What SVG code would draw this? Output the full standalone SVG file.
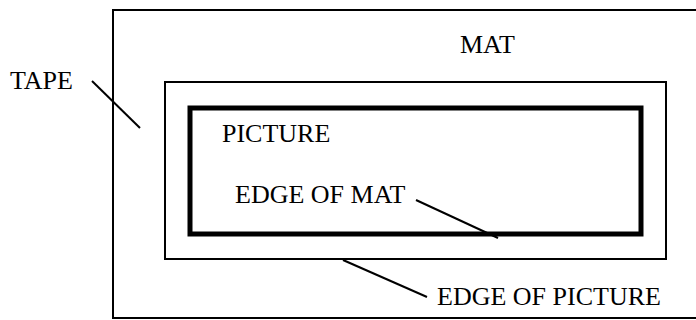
<svg xmlns="http://www.w3.org/2000/svg" width="696" height="320" viewBox="0 0 696 320">
<style>
text{font-family:'Liberation Serif','DejaVu Serif',serif;font-size:26px;fill:#000}
.b{fill:none;stroke:#000}
.c{stroke:#000;stroke-width:2;fill:none}
</style>
<rect width="696" height="320" fill="#fff"/>
<g id="mat"><rect class="b" x="113" y="10" width="600" height="308" stroke-width="2"/><text x="460" y="53">MAT</text></g>
<g id="picture-edge"><rect class="b" x="165" y="82" width="501" height="177" stroke-width="2"/></g>
<g id="mat-edge"><rect class="b" x="190" y="108" width="451" height="126" stroke-width="5"/><text x="222" y="142">PICTURE</text></g>
<g id="tape-label"><text x="10" y="89">TAPE</text></g>
<g id="edge-of-mat-label"><text x="235" y="203">EDGE OF MAT</text></g>
<g id="edge-of-picture-label"><text x="437" y="305">EDGE OF PICTURE</text></g>
<g id="connectors">
<line class="c" x1="92" y1="81" x2="140" y2="128"/>
<line class="c" x1="416" y1="200" x2="498" y2="238"/>
<line class="c" x1="343" y1="260" x2="427" y2="297"/>
</g>
</svg>
